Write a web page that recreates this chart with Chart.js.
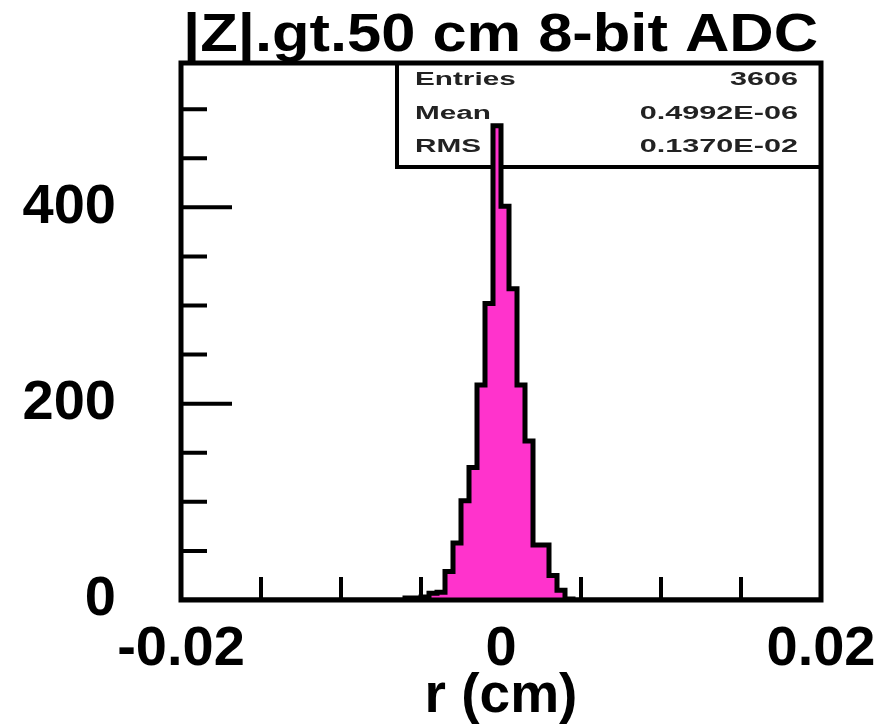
<!DOCTYPE html>
<html>
<head>
<meta charset="utf-8">
<script src="https://cdn.jsdelivr.net/npm/chart.js@4.4.1/dist/chart.umd.min.js"></script>
<style>
  html, body { margin: 0; padding: 0; background: #fff; }
  #wrap { width: 881px; height: 726px; }
</style>
</head>
<body>
<div id="wrap"><canvas id="histo" width="881" height="726"></canvas></div>
<script>
// histogram of r, |Z| > 50 cm, 8-bit ADC
const titleText = '|Z|.gt.50 cm 8-bit ADC';
const axisTitle = 'r (cm)';

const binEdges = [-0.006, -0.0055, -0.005, -0.0045, -0.004, -0.0035, -0.003, -0.0025, -0.002, -0.0015, -0.001, -0.0005,
                  0, 0.0005, 0.001, 0.0015, 0.002, 0.0025, 0.003, 0.0035, 0.004, 0.0045];
const binCounts = [2, 2, 3, 7, 8, 29, 58, 101, 135, 219, 302, 483,
                   401, 317, 219, 162, 56, 56, 25, 10, 1];

const xRange = [-0.02, 0.02];
const yRange = [0, 547];
const xLabelTicks = [-0.02, 0, 0.02];
const xMarkTicks = [-0.015, -0.01, -0.005, 0, 0.005, 0.01, 0.015];
const yMajorTicks = [0, 200, 400];
const yMinorTicks = [50, 100, 150, 250, 300, 350, 450, 500];

const statNames = ['Entries', 'Mean', 'RMS'];
const statValues = ['3606', '0.4992E-06', '0.1370E-02'];

// step outline: each point holds its count until the next edge
const points = [{ x: xRange[0], y: 0 }];
binCounts.forEach(function (c, i) {
    points.push({ x: binEdges[i], y: c });
});
points.push({ x: binEdges[binEdges.length - 1], y: 0 });
points.push({ x: xRange[1], y: 0 });

const FONT = "'Liberation Sans', Arial, Helvetica, sans-serif";

// tick marks drawn inside the frame, stats box behind the histogram
const framePlugin = {
    id: 'framePlugin',
    beforeDatasetsDraw(chart) {
        const ctx = chart.ctx;
        const area = chart.chartArea;
        const xs = chart.scales.x, ys = chart.scales.y;
        ctx.save();
        ctx.strokeStyle = '#000';
        ctx.lineWidth = 4;
        ctx.lineCap = 'butt';
        ctx.beginPath();
        yMajorTicks.forEach(function (v) {
            const py = ys.getPixelForValue(v);
            ctx.moveTo(area.left, py); ctx.lineTo(area.left + 51, py);
        });
        yMinorTicks.forEach(function (v) {
            const py = ys.getPixelForValue(v);
            ctx.moveTo(area.left, py); ctx.lineTo(area.left + 26, py);
        });
        xMarkTicks.forEach(function (v) {
            const px = xs.getPixelForValue(v);
            ctx.moveTo(px, area.bottom); ctx.lineTo(px, area.bottom - 23);
        });
        ctx.stroke();

        // statistics box
        const boxLeft = 397, boxBottom = 167;
        ctx.lineWidth = 4;
        ctx.strokeRect(boxLeft, area.top, area.right - boxLeft, boxBottom - area.top);

        ctx.fillStyle = '#222';
        ctx.font = 'bold 18px ' + FONT;
        ctx.textBaseline = 'middle';
        const rows = [80, 114, 147];
        statNames.forEach(function (name, i) {
            ctx.save();
            ctx.translate(415, rows[i]);
            ctx.scale(1.65, 1);
            ctx.textAlign = 'left';
            ctx.fillText(name, 0, 0);
            ctx.restore();
            ctx.save();
            ctx.translate(798, rows[i]);
            ctx.scale(1.7, 1);
            ctx.textAlign = 'right';
            ctx.fillText(statValues[i], 0, 0);
            ctx.restore();
        });
        ctx.restore();
    },
    afterDatasetsDraw(chart) {
        const ctx = chart.ctx;
        const a = chart.chartArea;
        ctx.save();
        ctx.strokeStyle = '#000';
        ctx.lineWidth = 5;
        ctx.strokeRect(a.left, a.top, a.right - a.left, a.bottom - a.top);
        ctx.restore();
    },
    afterDraw(chart) {
        // title, stretched to the frame width
        const ctx = chart.ctx;
        ctx.save();
        ctx.font = 'bold 54px ' + FONT;
        ctx.fillStyle = '#000';
        ctx.textAlign = 'center';
        ctx.textBaseline = 'alphabetic';
        const w = ctx.measureText(titleText).width;
        ctx.translate(500.5, 51);
        ctx.scale(635 / w, 1);
        ctx.fillText(titleText, 0, 0);
        ctx.restore();
    }
};

const ctx = document.getElementById('histo').getContext('2d');
new Chart(ctx, {
    type: 'line',
    data: {
        datasets: [{
            data: points,
            stepped: true,
            fill: 'origin',
            backgroundColor: '#ff33cc',
            borderColor: '#000',
            borderWidth: 5,
            pointRadius: 0,
            tension: 0
        }]
    },
    options: {
        responsive: false,
        animation: false,
        devicePixelRatio: 1,
        layout: { padding: { top: 63, right: 60, left: 0, bottom: 0 } },
        plugins: { legend: { display: false }, tooltip: { enabled: false }, title: { display: false } },
        scales: {
            x: {
                type: 'linear',
                min: xRange[0],
                max: xRange[1],
                grid: { display: false },
                border: { display: false },
                afterBuildTicks: function (s) { s.ticks = xLabelTicks.map(v => ({ value: v })); },
                afterFit: function (s) { s.height = 126; s.paddingLeft = 0; s.paddingRight = 0; },
                ticks: {
                    autoSkip: false,
                    maxRotation: 0,
                    padding: 8,
                    color: '#000',
                    font: { family: FONT, size: 56, weight: 'bold', lineHeight: 1.2 },
                    callback: v => (v === 0 ? '0' : v.toFixed(2))
                },
                title: {
                    display: true,
                    text: axisTitle,
                    color: '#000',
                    font: { family: FONT, size: 55, weight: 'bold', lineHeight: 1.0 },
                    padding: { top: 0, bottom: 2 }
                }
            },
            y: {
                min: yRange[0],
                max: yRange[1],
                grid: { display: false },
                border: { display: false },
                afterBuildTicks: function (s) { s.ticks = yMajorTicks.map(v => ({ value: v })); },
                afterFit: function (s) { s.width = 181; s.paddingTop = 0; s.paddingBottom = 0; },
                ticks: {
                    autoSkip: false,
                    padding: 57,
                    color: '#000',
                    font: { family: FONT, size: 56, weight: 'bold', lineHeight: 1.2 },
                    callback: v => String(v)
                }
            }
        }
    },
    plugins: [framePlugin]
});
</script>
</body>
</html>
